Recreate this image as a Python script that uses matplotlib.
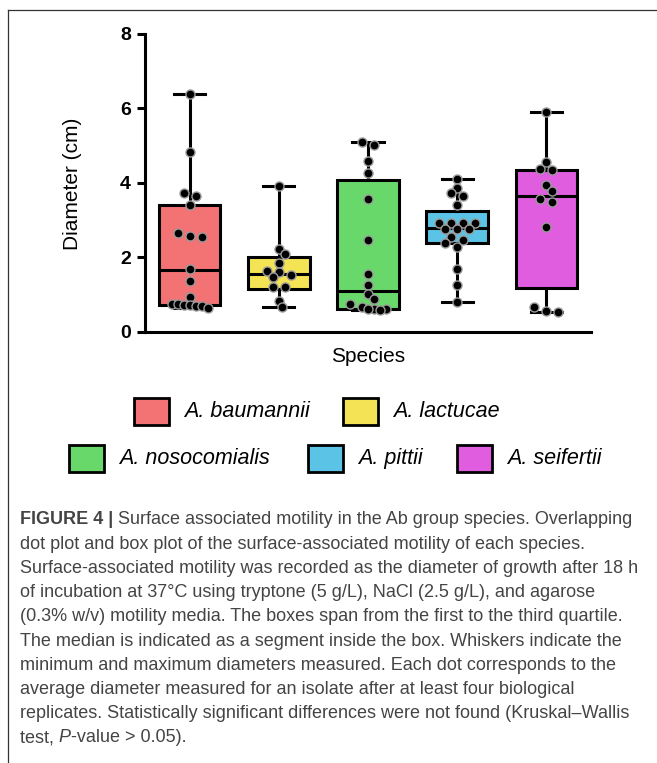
import matplotlib
matplotlib.use("Agg")
import matplotlib.pyplot as plt
from matplotlib.patches import Rectangle
from matplotlib.lines import Line2D
import numpy as np

W, H = 657, 763

plt.rcParams["font.family"] = ["Liberation Sans", "DejaVu Sans"]

# ==========================================================
# Data (diameter in cm)
# ==========================================================

species = ["A. baumannii", "A. lactucae", "A. nosocomialis", "A. pittii", "A. seifertii"]
colors = ["#F37273", "#F5E356", "#69D86B", "#5BC3E5", "#E05DE0"]

baumannii = [6.38, 4.84, 3.74, 3.66, 3.42, 2.66, 2.59, 2.55, 1.69, 1.37,
             0.93, 0.75, 0.75, 0.73, 0.73, 0.71, 0.70, 0.64]
lactucae = [3.91, 2.23, 2.09, 1.85, 1.63, 1.60, 1.53, 1.48, 1.22, 1.20, 0.83, 0.66]
nosocomialis = [5.11, 5.03, 4.58, 4.28, 3.56, 2.47, 1.56, 1.26, 1.02, 0.89,
                0.74, 0.68, 0.62, 0.62, 0.61, 0.59]
pittii = [4.12, 3.87, 3.73, 3.64, 3.41, 2.92, 2.92, 2.92, 2.92, 2.76, 2.76,
          2.76, 2.56, 2.47, 2.40, 2.28, 1.69, 1.26, 0.80]
seifertii = [5.90, 4.56, 4.38, 4.34, 3.95, 3.79, 3.56, 3.48, 2.81, 0.66, 0.56, 0.54]

q1 = [0.73, 1.16, 0.61, 2.38, 1.17]
medians = [1.67, 1.56, 1.11, 2.80, 3.65]
q3 = [3.42, 2.02, 4.07, 3.25, 4.36]
mins = [0.64, 0.66, 0.59, 0.80, 0.55]
maxs = [6.38, 3.91, 5.11, 4.12, 5.90]

groups = [baumannii, lactucae, nosocomialis, pittii, seifertii]

caption_lines = [
    [("FIGURE 4 |", "bold", "normal"),
     (" Surface associated motility in the Ab group species. Overlapping", "normal", "normal")],
    [("dot plot and box plot of the surface-associated motility of each species.", "normal", "normal")],
    [("Surface-associated motility was recorded as the diameter of growth after 18 h", "normal", "normal")],
    [("of incubation at 37°C using tryptone (5 g/L), NaCl (2.5 g/L), and agarose", "normal", "normal")],
    [("(0.3% w/v) motility media. The boxes span from the first to the third quartile.", "normal", "normal")],
    [("The median is indicated as a segment inside the box. Whiskers indicate the", "normal", "normal")],
    [("minimum and maximum diameters measured. Each dot corresponds to the", "normal", "normal")],
    [("average diameter measured for an isolate after at least four biological", "normal", "normal")],
    [("replicates. Statistically significant differences were not found (Kruskal–Wallis", "normal", "normal")],
    [("test, ", "normal", "normal"), ("P", "normal", "italic"), ("-value > 0.05).", "normal", "normal")],
]


# ==========================================================
# Helpers
# ==========================================================

def fx(x):
    return x / W


def fy(y):
    return 1 - y / H


def swarm(values, xscale, yscale, tol=0.12, step=12.0, max_span=36.0, mind=7.0):
    # rows of near-equal values, centred, then nudged sideways to avoid overlap
    vals = np.asarray(values, dtype=float)
    order = np.argsort(-vals, kind="stable")
    offsets = np.zeros(len(vals))
    placed = []
    i = 0
    while i < len(order):
        row = [order[i]]
        j = i + 1
        while j < len(order) and vals[row[0]] - vals[order[j]] <= tol + 1e-9:
            row.append(order[j])
            j += 1
        n = len(row)
        s = step if n < 2 else min(step, max_span / (n - 1))
        base = (np.arange(n) - (n - 1) / 2) * s
        best, best_d = base, -1.0
        for k in [0, 1, -1, 2, -2, 3, -3, 4, -4, 5, -5, 6, -6, 7, -7, 8, -8]:
            cand = base + k * 3.0
            d = min([np.hypot(cx - px, (vals[idx] - pv) * yscale)
                     for cx, idx in zip(cand, row) for px, pv in placed] or [99.0])
            if d >= mind:
                best = cand
                break
            if d > best_d + 1.0:
                best, best_d = cand, d
        for cx, idx in zip(best, row):
            offsets[idx] = cx / xscale
            placed.append((cx, vals[idx]))
        i = j
    return offsets


def draw_runs(fig, x, y, runs, size, color):
    renderer = fig.canvas.get_renderer()
    for txt, weight, style in runs:
        t = fig.text(fx(x), fy(y), txt, fontsize=size, fontweight=weight,
                     fontstyle=style, va="center", ha="left", color=color)
        x += t.get_window_extent(renderer=renderer).width


# ==========================================================
# Figure
# ==========================================================

fig = plt.figure(figsize=(W / 100, H / 100), dpi=100)

ax_left, ax_right, ax_top, ax_bottom = 145, 591, 34, 332
ax = fig.add_axes([fx(ax_left), fy(ax_bottom), (ax_right - ax_left) / W,
                   (ax_bottom - ax_top) / H])

positions = np.arange(len(species))
ax.set_xlim(-0.5, 4.5)
ax.set_ylim(0, 8)

stats = [
    {"q1": a, "med": m, "q3": b, "whislo": lo, "whishi": hi, "fliers": []}
    for a, m, b, lo, hi in zip(q1, medians, q3, mins, maxs)
]
bp = ax.bxp(stats, positions=positions, widths=0.69, capwidths=0.35,
            patch_artist=True, showfliers=False, manage_ticks=False,
            boxprops=dict(linewidth=2.2, edgecolor="black"),
            medianprops=dict(linewidth=2.2, color="black"),
            whiskerprops=dict(linewidth=2.2, color="black"),
            capprops=dict(linewidth=2.2, color="black"))
for patch, c in zip(bp["boxes"], colors):
    patch.set_facecolor(c)

xscale = (ax_right - ax_left) / 5.0
yscale = (ax_bottom - ax_top) / 8.0
for pos, vals in zip(positions, groups):
    offs = swarm(vals, xscale, yscale)
    ax.plot(pos + offs, vals, "o", markersize=6.5, markerfacecolor="black",
            markeredgecolor="#9a9a9a", markeredgewidth=1.0, zorder=5,
            clip_on=False)

for side in ["top", "right"]:
    ax.spines[side].set_visible(False)
for side in ["left", "bottom"]:
    ax.spines[side].set_linewidth(2.2)
ax.set_xticks([])
ax.set_yticks([0, 2, 4, 6, 8])
ax.tick_params(axis="y", length=6, width=2.2, labelsize=14, pad=4)
for lbl in ax.get_yticklabels():
    lbl.set_fontweight("bold")

fig.text(fx(72), fy(184), "Diameter (cm)", fontsize=15, rotation=90,
         ha="center", va="center")
fig.text(fx(368), fy(356), "Species", fontsize=15, ha="center", va="center")

# ==========================================================
# Legend
# ==========================================================

legend_slots = [(134, 411), (343, 411), (69, 458), (308, 458), (457, 458)]
sw, sh = 35, 27
for (lx, ly), name, c in zip(legend_slots, species, colors):
    fig.add_artist(Rectangle((fx(lx), fy(ly + sh / 2)), sw / W, sh / H,
                             facecolor=c, edgecolor="black", linewidth=2.0,
                             transform=fig.transFigure))
    fig.text(fx(lx + sw + 15), fy(ly), name, fontsize=15.5, fontstyle="italic",
             ha="left", va="center")

# ==========================================================
# Frame and caption
# ==========================================================

fig.add_artist(Line2D([fx(8), fx(8)], [fy(10), 0], color="#333333",
                      linewidth=0.9, transform=fig.transFigure))
fig.add_artist(Line2D([fx(8), 1], [fy(10), fy(10)], color="#333333",
                      linewidth=0.9, transform=fig.transFigure))

for i, runs in enumerate(caption_lines):
    draw_runs(fig, 20, 520 + 24.2 * i, runs, 13, "#444444")

fig.savefig("out.png", dpi=100)
